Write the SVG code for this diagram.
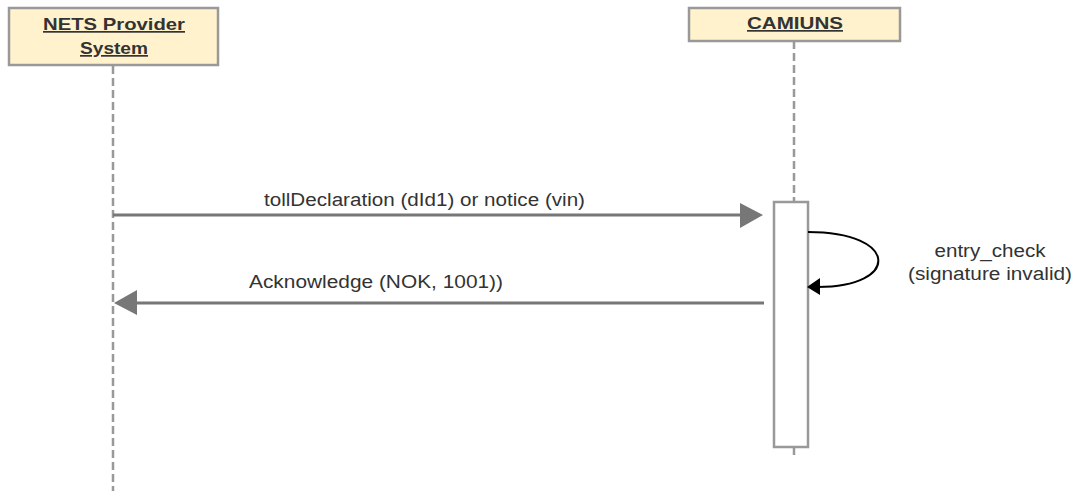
<svg xmlns="http://www.w3.org/2000/svg" width="1077" height="491" viewBox="0 0 1077 491">
<style>
.box{fill:#fff2cc;stroke:#999;stroke-width:2.5}
.hdr{font-family:"Liberation Sans",Arial,sans-serif;font-size:17px;font-weight:bold;fill:#333;text-decoration:underline;text-anchor:middle}
.life{stroke:#999;stroke-width:2.5;stroke-dasharray:8 4;fill:none}
.act{fill:#fff;stroke:#999;stroke-width:2.5}
.msg{stroke:#777;stroke-width:3;fill:none}
.head{fill:#777;stroke:none}
.lbl{font-family:"Liberation Sans",Arial,sans-serif;font-size:18px;fill:#333}
</style>
<rect width="1077" height="491" fill="#fff"/>
<g id="lifelines">
<line class="life" x1="113" y1="66" x2="113" y2="491"/>
<line class="life" x1="794" y1="41" x2="794" y2="201"/>
<line class="life" x1="794" y1="447" x2="794" y2="455"/>
</g>
<g id="node-nets">
<rect class="box" x="9" y="8" width="209" height="57"/>
<text class="hdr" x="114" y="30" textLength="142" lengthAdjust="spacingAndGlyphs">NETS Provider</text>
<text class="hdr" x="114" y="54" textLength="68" lengthAdjust="spacingAndGlyphs">System</text>
</g>
<g id="node-camiuns">
<rect class="box" x="689" y="8" width="211" height="33"/>
<text class="hdr" x="795" y="29" textLength="96" lengthAdjust="spacingAndGlyphs">CAMIUNS</text>
</g>
<g id="activation">
<rect class="act" x="774" y="202" width="34" height="245"/>
</g>
<g id="connectors">
<line class="msg" x1="113" y1="215" x2="742" y2="215"/>
<polygon class="head" points="763,215 740,203 740,228"/>
<line class="msg" x1="135" y1="303" x2="764" y2="303"/>
<polygon class="head" points="114,303 137,290 137,315"/>
<path d="M808,232 C900,232 900,287 818,287" fill="none" stroke="#000" stroke-width="2"/>
<polygon points="807,287 820,278 820,295" fill="#000"/>
</g>
<g id="labels">
<text class="lbl" x="264" y="206" textLength="321" lengthAdjust="spacingAndGlyphs">tollDeclaration (dId1) or notice (vin)</text>
<text class="lbl" x="249" y="288" textLength="254" lengthAdjust="spacingAndGlyphs">Acknowledge (NOK, 1001))</text>
<text class="lbl" x="990" y="257" text-anchor="middle" textLength="111" lengthAdjust="spacingAndGlyphs">entry_check</text>
<text class="lbl" x="990" y="280" text-anchor="middle" textLength="164" lengthAdjust="spacingAndGlyphs">(signature invalid)</text>
</g>
</svg>
